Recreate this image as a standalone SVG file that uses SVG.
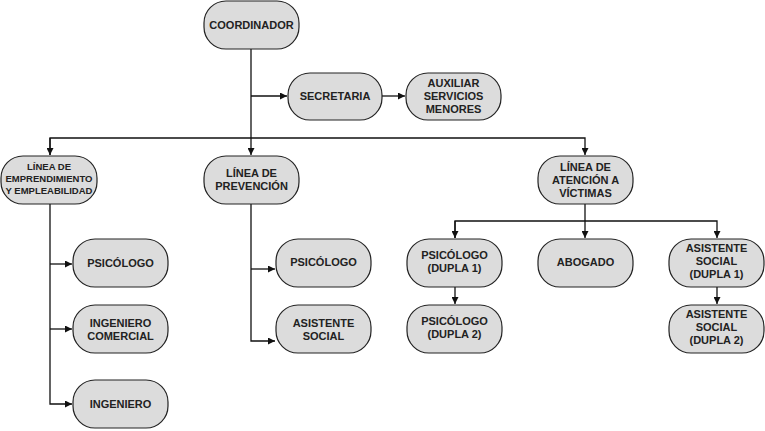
<svg xmlns="http://www.w3.org/2000/svg" width="765" height="431" viewBox="0 0 765 431">
<style>
.n rect{fill:#dcdcdc;stroke:#222;stroke-width:1.2}
.n text{font-family:"Liberation Sans",Arial,sans-serif;font-weight:bold;font-size:11px;fill:#222;text-anchor:middle}
.s text{font-size:9.5px}
#c path{fill:none;stroke:#111;stroke-width:1.3}
</style>
<defs><marker id="a" viewBox="0 0 10 10" refX="10" refY="5" markerWidth="7" markerHeight="7" markerUnits="userSpaceOnUse" orient="auto"><path d="M0,0L10,5L0,10z" fill="#111"/></marker></defs>
<g id="c">
<path d="M251,49V155" marker-end="url(#a)"/>
<path d="M251,96H287" marker-end="url(#a)"/>
<path d="M382,96H405" marker-end="url(#a)"/>
<path d="M50,155V138H585V155" marker-end="url(#a)"/>
<path d="M50,138V155" marker-end="url(#a)"/>
<path d="M50,204V404H72" marker-end="url(#a)"/>
<path d="M50,264H72" marker-end="url(#a)"/>
<path d="M50,329H72" marker-end="url(#a)"/>
<path d="M251,204V341H275" marker-end="url(#a)"/>
<path d="M251,269H275" marker-end="url(#a)"/>
<path d="M585,204V238" marker-end="url(#a)"/>
<path d="M455,238V221H717V238" marker-end="url(#a)"/>
<path d="M455,221V238" marker-end="url(#a)"/>
<path d="M455,287V304" marker-end="url(#a)"/>
<path d="M717,287V304" marker-end="url(#a)"/>
</g>
<g id="coord" class="n"><rect x="204" y="1" width="95" height="48" rx="22"/><text x="251.5" y="29">COORDINADOR</text></g>
<g id="secretaria" class="n"><rect x="288" y="73" width="94" height="47" rx="22"/><text x="335" y="100">SECRETARIA</text></g>
<g id="auxiliar" class="n"><rect x="406" y="73" width="95" height="47" rx="22"/><text x="453.5" y="87">AUXILIAR</text><text x="453.5" y="100">SERVICIOS</text><text x="453.5" y="113">MENORES</text></g>
<g id="emprend" class="n s"><rect x="1" y="156" width="96" height="48" rx="22"/><text x="49" y="170">LÍNEA DE</text><text x="49" y="182">EMPRENDIMIENTO</text><text x="49" y="194">Y EMPLEABILIDAD</text></g>
<g id="prevencion" class="n"><rect x="204" y="156" width="95" height="48" rx="22"/><text x="251.5" y="177">LÍNEA DE</text><text x="251.5" y="190">PREVENCIÓN</text></g>
<g id="atencion" class="n"><rect x="538" y="156" width="95" height="48" rx="22"/><text x="585.5" y="171">LÍNEA DE</text><text x="585.5" y="184">ATENCIÓN A</text><text x="585.5" y="197">VÍCTIMAS</text></g>
<g id="psi1" class="n"><rect x="73" y="239" width="95" height="48" rx="22"/><text x="120.5" y="267">PSICÓLOGO</text></g>
<g id="ingcom" class="n"><rect x="73" y="305" width="95" height="48" rx="22"/><text x="120.5" y="327">INGENIERO</text><text x="120.5" y="340">COMERCIAL</text></g>
<g id="ing" class="n"><rect x="73" y="380" width="95" height="48" rx="22"/><text x="120.5" y="408">INGENIERO</text></g>
<g id="psi2" class="n"><rect x="276" y="239" width="95" height="48" rx="22"/><text x="323.5" y="266">PSICÓLOGO</text></g>
<g id="asis" class="n"><rect x="276" y="305" width="95" height="48" rx="22"/><text x="323.5" y="327">ASISTENTE</text><text x="323.5" y="340">SOCIAL</text></g>
<g id="psid1" class="n"><rect x="407" y="239" width="95" height="48" rx="22"/><text x="454.5" y="259">PSICÓLOGO</text><text x="454.5" y="272">(DUPLA 1)</text></g>
<g id="abogado" class="n"><rect x="538" y="239" width="95" height="48" rx="22"/><text x="585.5" y="266">ABOGADO</text></g>
<g id="asisd1" class="n"><rect x="669" y="239" width="95" height="48" rx="22"/><text x="716.5" y="252">ASISTENTE</text><text x="716.5" y="265">SOCIAL</text><text x="716.5" y="278">(DUPLA 1)</text></g>
<g id="psid2" class="n"><rect x="407" y="305" width="95" height="48" rx="22"/><text x="454.5" y="325">PSICÓLOGO</text><text x="454.5" y="338">(DUPLA 2)</text></g>
<g id="asisd2" class="n"><rect x="669" y="305" width="95" height="48" rx="22"/><text x="716.5" y="318">ASISTENTE</text><text x="716.5" y="331">SOCIAL</text><text x="716.5" y="344">(DUPLA 2)</text></g>
</svg>
